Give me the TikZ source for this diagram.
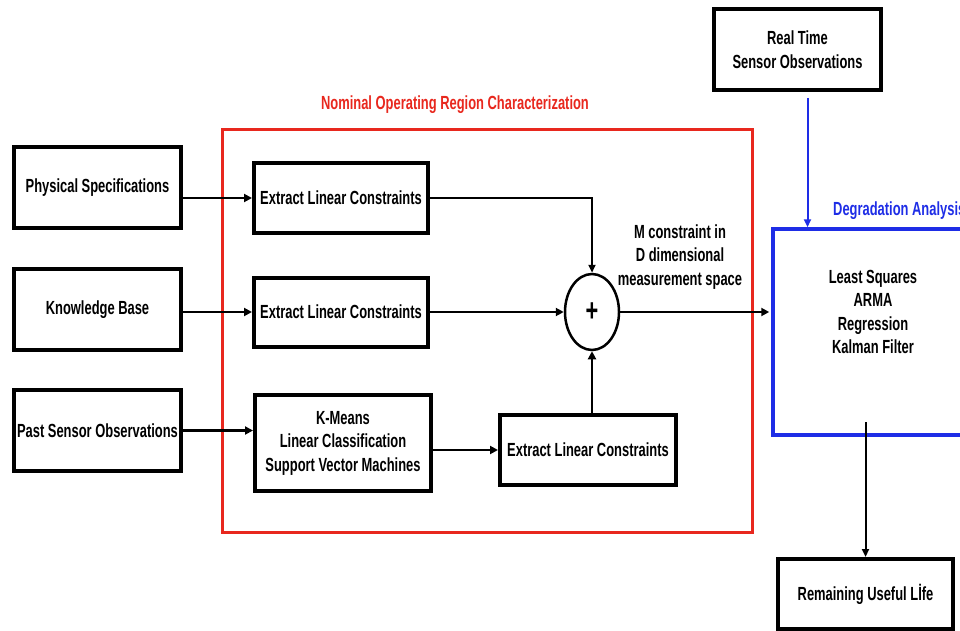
\documentclass[tikz,border=0pt]{standalone}
\usepackage{fontspec}
\setmainfont{Liberation Sans}[FakeStretch=0.68]
\usetikzlibrary{arrows.meta,shapes.geometric}
\definecolor{regred}{RGB}{232,40,30}
\definecolor{degblue}{RGB}{30,45,230}
\begin{document}
\begin{tikzpicture}[x=1pt,y=-1pt,
  txt/.style={font=\bfseries\fontsize{19}{23.5}\selectfont,align=center,inner sep=0pt},
  box/.style={txt,draw,line width=4pt,rectangle},
  arr/.style={line width=2.5pt,-{Triangle[length=8pt,width=8pt]}},
  thinarr/.style={line width=2pt,-{Triangle[length=8pt,width=7pt]}},
  bluearr/.style={draw=degblue,line width=2pt,-{Triangle[length=8pt,width=7pt]}}]
\useasboundingbox (0,0) rectangle (960,631);
\clip (0,0) rectangle (960,631);
% left inputs
\node[box,minimum width=167pt,minimum height=81pt] (phys) at (97.5,187.5) {Physical Specifications};
\node[box,minimum width=167pt,minimum height=81pt] (kb) at (97.5,309.5) {Knowledge Base};
\node[box,minimum width=167pt,minimum height=81pt] (pso) at (97.5,430.5) {Past Sensor Observations};
% red region
\node[draw=regred,line width=3pt,minimum width=530pt,minimum height=402pt,inner sep=0pt] (region) at (487,331) {};
\node[txt,text=regred] (regtitle) at (455,105) {Nominal Operating Region Characterization};
% inner boxes
\node[box,minimum width=174pt,minimum height=69pt] (elc1) at (341,198) {Extract Linear Constraints};
\node[box,minimum width=174pt,minimum height=69pt] (elc2) at (341,312) {Extract Linear Constraints};
\node[box,minimum width=176pt,minimum height=96pt] (km) at (343,443) {K-Means\\Linear Classification\\Support Vector Machines};
\node[box,minimum width=176pt,minimum height=70pt] (elc3) at (588,450) {Extract Linear Constraints};
\node[draw,ellipse,line width=2.5pt,minimum width=54pt,minimum height=76pt,inner sep=0pt,font=\bfseries\fontsize{32}{32}\selectfont] (sum) at (592,312) {+};
\node[txt] (mlabel) at (680,257) {M constraint in\\D dimensional\\measurement space};
% degradation analysis
\node[draw=degblue,line width=3.5pt,minimum width=202pt,minimum height=206pt,inner sep=0pt] (dega) at (874,332) {};
\node[txt,text=degblue,anchor=west] (degtitle) at (833,211) {Degradation Analysis};
\node[txt] (methods) at (873,312) {Least Squares\\ARMA\\Regression\\Kalman Filter};
\node[box,minimum width=167pt,minimum height=81pt] (rt) at (797.5,49.5) {Real Time\\Sensor Observations};
\node[box,minimum width=175pt,minimum height=70pt] (rul) at (865.5,594) {Remaining Useful Lİfe};
\coordinate (dout) at (865.5,422);
% connectors
\draw[arr] (phys.east |- elc1.west) -- (elc1.west);
\draw[arr] (kb.east |- elc2.west) -- (elc2.west);
\draw[arr] (pso.east) -- (pso.east -| km.west);
\draw[thinarr] (elc1.east) -| (sum.north);
\draw[arr] (elc2.east) -- (sum.west);
\draw[arr] (km.east |- elc3.west) -- (elc3.west);
\draw[arr] (sum |- elc3.north) -- (sum.south);
\draw[arr,shorten >=2pt] (sum.east) -- (sum.east -| dega.west);
\draw[bluearr] ([xshift=10pt,yshift=-6pt]rt.south) -- ([xshift=10pt]rt.south |- dega.north);
\draw[thinarr] (dout) -- (rul.north);
\end{tikzpicture}
\end{document}
